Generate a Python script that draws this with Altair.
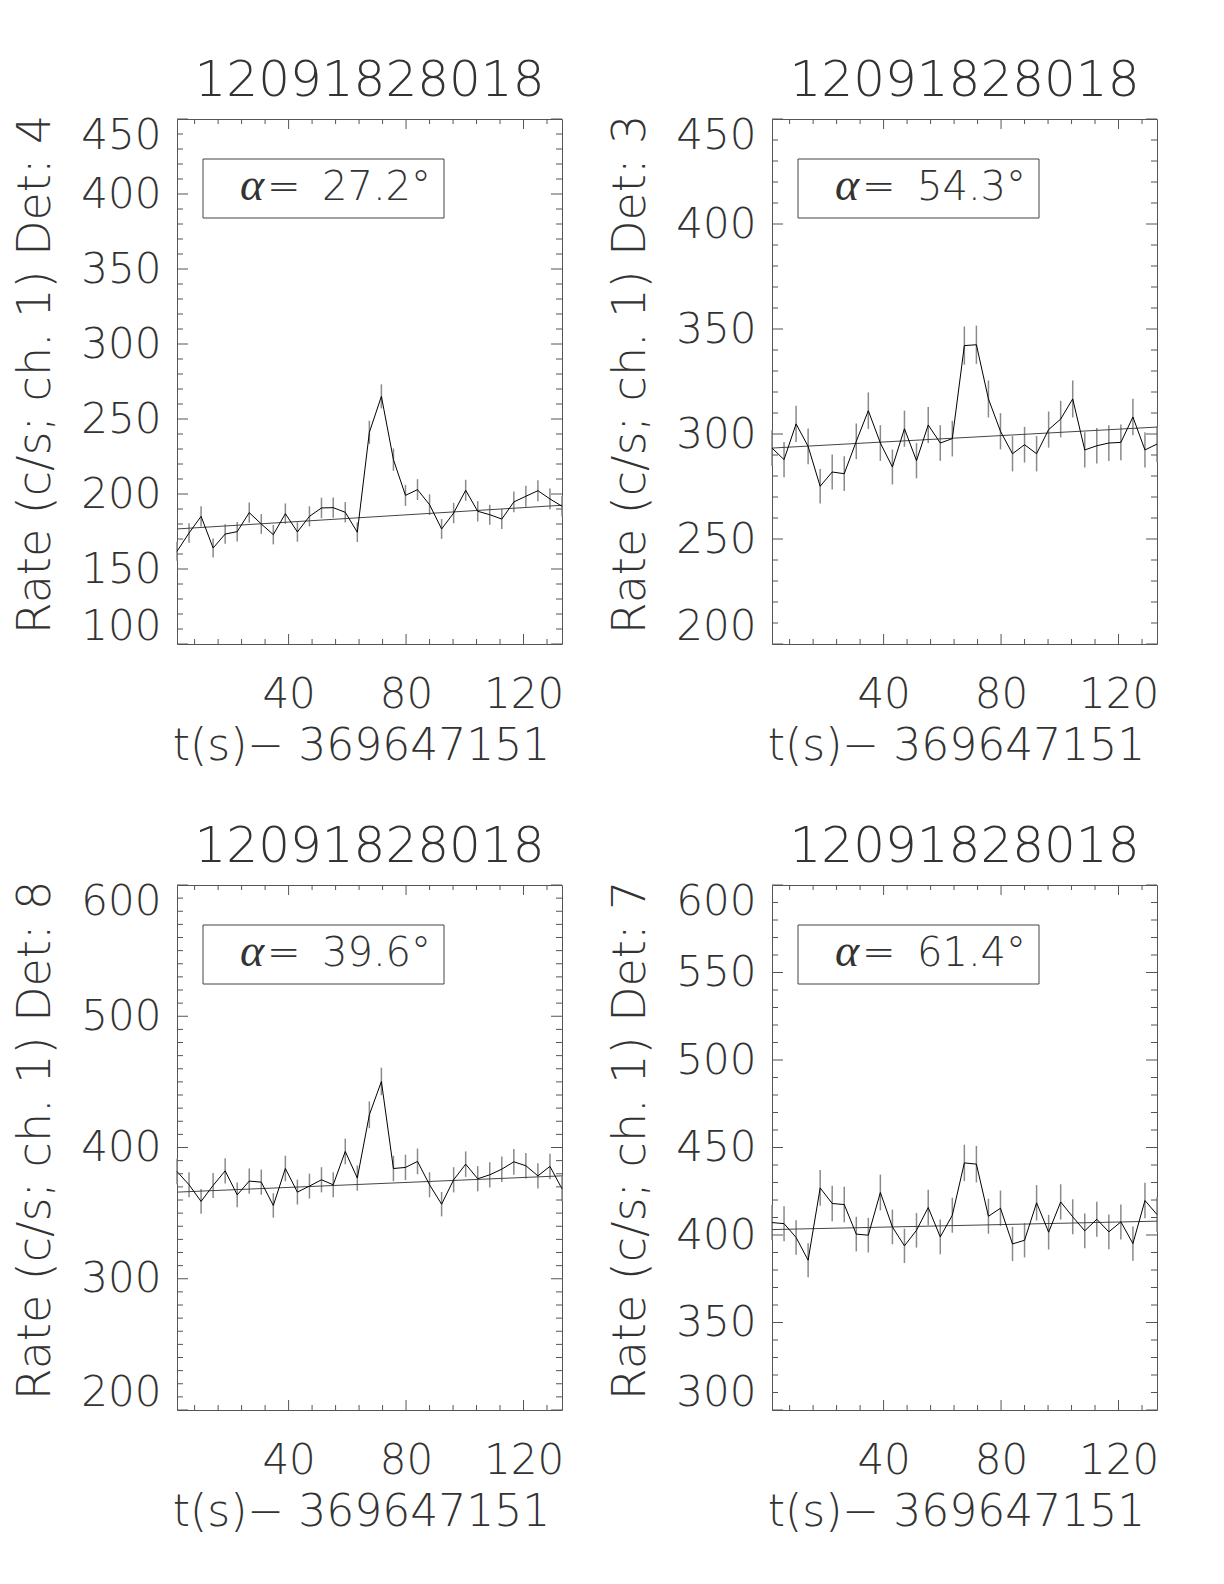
import altair as alt
import pandas as pd

# ---------------- data ----------------
TITLE = "12091828018"
X_TITLE = "t(s)\u2212 369647151"
DETS = ["4", "3", "8", "7"]
ANGLES = ["27.2\u00b0", "54.3\u00b0", "39.6\u00b0", "61.4\u00b0"]

T = [2.0, 6.1, 10.2, 14.3, 18.4, 22.5, 26.6, 30.7, 34.8, 38.9, 43.0,
     47.1, 51.2, 55.2, 59.3, 63.4, 67.5, 71.6, 75.7, 79.8, 83.9, 88.0,
     92.1, 96.2, 100.3, 104.4, 108.5, 112.6, 116.7, 120.8, 124.9, 129.0, 133.1]

RATE_DET4 = [161.8, 174.0, 185.1, 164.0, 173.3, 174.9, 187.6, 180.0, 172.9, 186.9, 174.7,
             185.1, 190.7, 190.9, 187.8, 174.5, 241.1, 265.1, 222.9, 199.1, 202.9, 192.9,
             176.7, 187.3, 202.5, 188.5, 186.2, 183.3, 194.7, 198.5, 202.2, 196.7, 191.8]
ERR_DET4 = [6.3, 6.5, 6.7, 6.3, 6.5, 6.5, 6.8, 6.6, 6.5, 6.8, 6.5,
            6.7, 6.8, 6.8, 6.8, 6.5, 7.7, 8.0, 7.4, 7.0, 7.0, 6.9,
            6.6, 6.8, 7.0, 6.8, 6.7, 6.7, 6.9, 7.0, 7.0, 6.9, 6.8]

RATE_DET3 = [293.3, 287.8, 304.8, 294.1, 275.1, 281.9, 281.1, 296.5, 311.1, 295.7, 284.3,
             302.5, 287.3, 304.3, 295.7, 297.8, 342.1, 342.5, 316.7, 301.3, 290.6, 294.9,
             290.6, 302.1, 307.1, 316.7, 292.4, 294.4, 295.7, 296.0, 308.1, 292.4, 295.2]
ERR_DET3 = [8.5, 8.4, 8.6, 8.5, 8.2, 8.3, 8.3, 8.5, 8.7, 8.5, 8.3,
            8.6, 8.4, 8.6, 8.5, 8.5, 9.1, 9.1, 8.8, 8.6, 8.4, 8.5,
            8.4, 8.6, 8.7, 8.8, 8.4, 8.5, 8.5, 8.5, 8.7, 8.4, 8.5]

RATE_DET8 = [381.7, 371.6, 358.9, 371.1, 382.2, 363.9, 374.4, 373.6, 355.8, 384.0, 366.0,
             370.6, 375.4, 371.6, 397.0, 376.7, 424.9, 450.3, 384.0, 384.8, 389.4, 371.6,
             356.8, 375.4, 387.3, 376.2, 379.2, 383.5, 389.1, 386.1, 378.4, 385.6, 368.5]
ERR_DET8 = [9.7, 9.5, 9.4, 9.5, 9.7, 9.4, 9.6, 9.6, 9.3, 9.7, 9.5,
            9.5, 9.6, 9.5, 9.8, 9.6, 10.2, 10.5, 9.7, 9.7, 9.8, 9.5,
            9.3, 9.6, 9.7, 9.6, 9.6, 9.7, 9.8, 9.7, 9.6, 9.7, 9.5]

RATE_DET7 = [407.1, 406.5, 398.6, 385.6, 426.9, 418.0, 417.4, 400.5, 399.9, 424.3, 404.6,
             393.8, 402.7, 415.7, 398.9, 411.3, 441.2, 440.5, 410.7, 415.3, 394.9, 397.0,
             418.4, 401.6, 418.9, 410.4, 402.4, 409.0, 401.8, 407.5, 395.1, 419.7, 411.7]
ERR_DET7 = [10.0, 10.0, 9.9, 9.7, 10.2, 10.1, 10.1, 9.9, 9.9, 10.2, 9.9,
            9.8, 9.9, 10.1, 9.9, 10.0, 10.4, 10.4, 10.0, 10.1, 9.8, 9.8,
            10.1, 9.9, 10.1, 10.0, 9.9, 10.0, 9.9, 10.0, 9.8, 10.1, 10.0]

# background fit: value at first and last time bin
FIT_DET4 = [176.7, 192.5]
FIT_DET3 = [293.3, 303.3]
FIT_DET8 = [366.0, 378.4]
FIT_DET7 = [403.1, 407.9]

Y_DOMAINS = [[100, 450], [200, 450], [200, 600], [300, 600]]
Y_STEPS = [50, 50, 100, 50]
X_LABELS = [40, 80, 120]
X_MINOR_STEP = 8
Y_MINOR_STEP = 10

RATES = [RATE_DET4, RATE_DET3, RATE_DET8, RATE_DET7]
ERRS = [ERR_DET4, ERR_DET3, ERR_DET8, ERR_DET7]
FITS = [FIT_DET4, FIT_DET3, FIT_DET8, FIT_DET7]

# ---------------- styling ----------------
W, H = 385, 525
FONT = "DejaVu Sans"
FW = 200
TXT = "#333333"
FRAME = "#555555"


def panel(k):
    y0, y1 = Y_DOMAINS[k]
    xsc = alt.Scale(domain=[T[0], T[-1]], nice=False, zero=False)
    ysc = alt.Scale(domain=[y0, y1], nice=False, zero=False)
    y_major = list(range(y0, y1 + 1, Y_STEPS[k]))
    y_minor = [v for v in range(y0, y1 + 1, Y_MINOR_STEP) if v not in y_major]
    x_major = X_LABELS
    x_minor = [v for v in range(X_MINOR_STEP, int(T[-1]) + 1, X_MINOR_STEP) if v not in x_major]

    df = pd.DataFrame({"t": T, "rate": RATES[k], "err": ERRS[k]})
    dfit = pd.DataFrame({"t": [T[0], T[-1]], "fit": FITS[k]})

    xaxis = alt.Axis(values=X_LABELS, title=X_TITLE, grid=False, ticks=False, tickSize=0,
                     domain=False, labelFont=FONT, labelFontSize=42, labelFontWeight=FW,
                     labelColor=TXT, labelPadding=30, labelOverlap=False, labelFlush=False,
                     titleFont=FONT, titleFontSize=44, titleFontWeight=FW, titleColor=TXT,
                     titlePadding=9, titleX=184)
    yaxis = alt.Axis(values=y_major, title=f"Rate (c/s; ch. 1) Det: {DETS[k]}", grid=False,
                     ticks=False, tickSize=0, domain=False, labelFont=FONT, labelFontSize=42,
                     labelFontWeight=FW, labelColor=TXT, labelPadding=16, labelOverlap=False,
                     labelFlush=True, labelFlushOffset=4, titleFont=FONT, titleFontSize=46,
                     titleFontWeight=FW, titleColor=TXT, titlePadding=21, titleY=255)

    def X(field):
        return alt.X(field, type="quantitative", scale=xsc, axis=xaxis)

    def Y(field):
        return alt.Y(field, type="quantitative", scale=ysc, axis=yaxis)

    err = alt.Chart(df).transform_calculate(
        lo="datum.rate - datum.err", hi="datum.rate + datum.err"
    ).mark_rule(color="#8a8a8a", strokeWidth=1.5).encode(
        x=X("t"), y=Y("lo"), y2="hi:Q",
    )
    fit = alt.Chart(dfit).mark_line(color="#444444", strokeWidth=1).encode(
        x=X("t"), y=Y("fit"),
    )
    line = alt.Chart(df).mark_line(color="#000000", strokeWidth=1).encode(
        x=X("t"), y=Y("rate"),
    )

    layers = [err, fit, line]

    def yt(vals, length):
        d = pd.DataFrame({"v": vals})
        out = []
        for xa, xb in [(0, length), (W - length, W)]:
            out.append(alt.Chart(d).mark_rule(color=FRAME, strokeWidth=1).encode(
                y=Y("v"), x=alt.value(xa), x2=alt.value(xb)))
        return out

    def xt(vals, length):
        d = pd.DataFrame({"v": vals})
        out = []
        for ya, yb in [(H - length, H), (0, length)]:
            out.append(alt.Chart(d).mark_rule(color=FRAME, strokeWidth=1).encode(
                x=X("v"), y=alt.value(ya), y2=alt.value(yb)))
        return out

    layers += yt(y_minor, 6) + yt(y_major, 11) + xt(x_minor, 5) + xt(x_major, 10)

    one = pd.DataFrame({"a": [0]})
    box = alt.Chart(one).mark_rect(fillOpacity=0, stroke="#444444", strokeWidth=1).encode(
        x=alt.value(26), x2=alt.value(267), y=alt.value(40), y2=alt.value(99))
    a_txt = alt.Chart(one).mark_text(text="\u03b1", font="Liberation Serif", fontStyle="italic",
                                     fontSize=46, align="left",
                                     baseline="alphabetic", color=TXT).encode(
        x=alt.value(63), y=alt.value(81))
    eq_txt = alt.Chart(one).mark_text(text="=", font=FONT, fontWeight=FW, fontSize=40,
                                      align="left", baseline="alphabetic", color=TXT).encode(
        x=alt.value(90), y=alt.value(81))
    v_txt = alt.Chart(one).mark_text(text=ANGLES[k], font=FONT, fontWeight=FW, fontSize=40,
                                     align="left", baseline="alphabetic", color=TXT).encode(
        x=alt.value(145), y=alt.value(81))
    layers += [box, a_txt, eq_txt, v_txt]

    return alt.layer(*layers).properties(
        width=W, height=H,
        title=alt.TitleParams(TITLE, font=FONT, fontSize=50, fontWeight=FW, color=TXT,
                              baseline="alphabetic", offset=-32, frame="group"),
    )


chart = alt.concat(
    panel(0), panel(1), panel(2), panel(3),
    columns=2, spacing={"row": 241, "column": 210}, bounds="flush",
).properties(
    padding={"left": 4, "top": 47, "right": 5, "bottom": 5}
).configure_view(stroke=FRAME, strokeWidth=1)

chart.save("out.html", embed_options={"renderer": "svg", "actions": False})
